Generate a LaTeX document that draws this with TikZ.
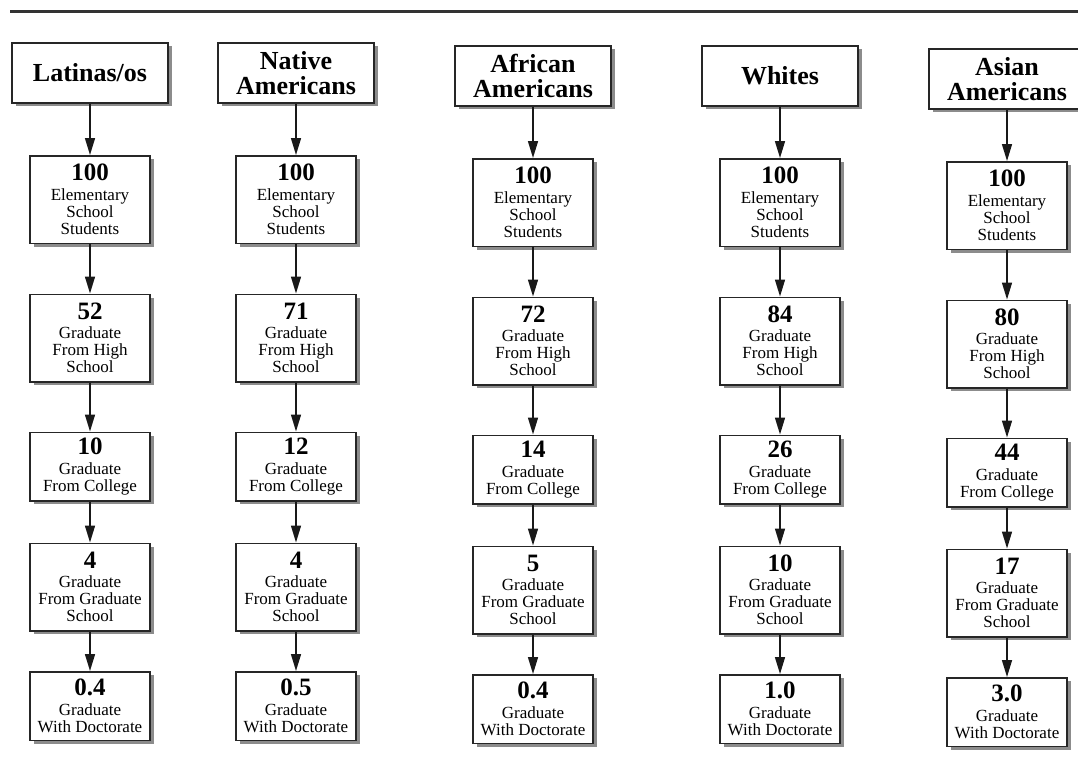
\documentclass[tikz,border=0pt]{standalone}
\usepackage{fontspec}
\setmainfont{Liberation Serif}
\usetikzlibrary{shadows,arrows.meta}
\tikzset{
  boxshadow/.style={drop shadow={shadow xshift=3.5pt,shadow yshift=-3.5pt,fill=black!45,opacity=1}},
  hdr/.style={draw=black!85,line width=1.5pt,fill=white,boxshadow,minimum width=156pt,minimum height=60pt,inner sep=0pt,align=center,font=\fontsize{26}{25}\selectfont\bfseries},
  valbox/.style={draw=black!85,line width=1.5pt,fill=white,boxshadow,minimum width=120pt,inner sep=0pt,align=center,font=\fontsize{17}{17}\selectfont},
  boxthree/.style={valbox,minimum height=87.5pt},
  boxtwo/.style={valbox,minimum height=68.5pt},
  arr/.style={line width=1.5pt,black!90,-{Triangle[length=17pt,width=10pt]}},
  rule/.style={line width=3pt,black!80}
}
\newcommand{\num}[1]{{\fontsize{25}{25}\selectfont\bfseries #1}}
\newcommand{\gcol}[9]{%
  \node[hdr] (#1h) at (#2,73+#3) {#4};
  \node[boxthree] (#1a) at (#2,199.5+#3) {\num{100}\\[2.5pt]Elementary\\School\\Students};
  \node[boxthree] (#1b) at (#2,338+#3) {\num{#5}\\[2.5pt]Graduate\\From High\\School};
  \node[boxtwo] (#1c) at (#2,466.5+#3) {\num{#6}\\[2.5pt]Graduate\\From College};
  \node[boxthree] (#1d) at (#2,587+#3) {\num{#7}\\[2.5pt]Graduate\\From Graduate\\School};
  \node[boxtwo] (#1e) at (#2,706+#3) {\num{#8}\\[2.5pt]Graduate\\With Doctorate};
  \draw[arr] (#1h.south) -- (#1a.north);
  \draw[arr] (#1a.south) -- (#1b.north);
  \draw[arr] (#1b.south) -- (#1c.north);
  \draw[arr] (#1c.south) -- (#1d.north);
  \draw[arr] (#1d.south) -- (#1e.north);
}
\begin{document}
\begin{tikzpicture}[x=1pt,y=-1pt]
\useasboundingbox (0,0) rectangle (1078,773);
\coordinate (ruleL) at (10,12);
\coordinate (ruleR) at (1078,12);
\draw[rule] (ruleL) -- (ruleR);
\gcol{la}{90}{0}{Latinas/os}{52}{10}{4}{0.4}{}
\gcol{na}{296}{0}{Native\\Americans}{71}{12}{4}{0.5}{}
\gcol{af}{533}{3}{African\\Americans}{72}{14}{5}{0.4}{}
\gcol{wh}{780}{3}{Whites}{84}{26}{10}{1.0}{}
\gcol{as}{1007}{6}{Asian\\Americans}{80}{44}{17}{3.0}{}
\end{tikzpicture}
\end{document}
